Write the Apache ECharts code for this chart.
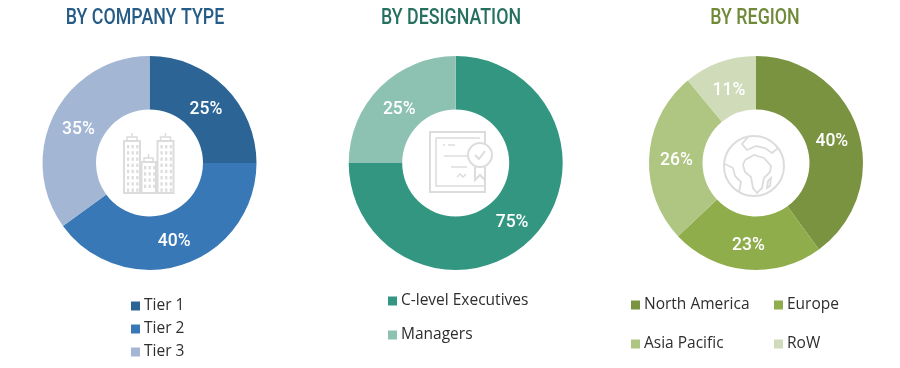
<!DOCTYPE html>
<html>
<head>
<meta charset="utf-8">
<title>Breakdown of primary interviews</title>
<script src="https://cdn.jsdelivr.net/npm/echarts@6/dist/echarts.min.js"></script>
<style>
html, body { margin: 0; padding: 0; background: #fff; }
#chart { width: 900px; height: 368px; }
</style>
</head>
<body>
<div id="chart"></div>
<script>
var companyNames = ['Tier 1', 'Tier 2', 'Tier 3'];
var companyValues = [25, 40, 35];
var companyColors = ['#2c6496', '#3878b6', '#a3b7d5'];

var designationNames = ['C-level Executives', 'Managers'];
var designationValues = [75, 25];
var designationColors = ['#329680', '#8dc2b2'];

var regionNames = ['North America', 'Europe', 'Asia Pacific', 'RoW'];
var regionValues = [40, 23, 26, 11];
var regionColors = ['#7a9340', '#8fad4b', '#aec681', '#d0dcb9'];

var iconColor = '#dcdcdc';

function toData(names, values, colors) {
    var sofar = 0;
    return names.map(function (n, i) {
        // pull the label a little towards the hole, the way the original sits
        var mid = (sofar + values[i] / 2) / 100 * Math.PI * 2;
        sofar += values[i];
        return {
            name: n,
            value: values[i],
            itemStyle: { color: colors[i] },
            label: { offset: [-3.5 * Math.sin(mid), 3.5 * Math.cos(mid) + 3] }
        };
    });
}

function donut(cx, names, values, colors) {
    return {
        type: 'pie',
        center: [cx, 163],
        radius: [53.5, 107],
        startAngle: 90,
        clockwise: true,
        silent: true,
        animation: false,
        label: {
            show: true,
            position: 'inside',
            formatter: '{d}%',
            color: '#fff',
            fontFamily: 'Roboto',
            fontWeight: 500,
            fontSize: 17.5
        },
        labelLine: { show: false },
        data: toData(names, values, colors)
    };
}

// the titles are a condensed face, so squeeze the text sideways
function title(text, cx, color) {
    return {
        type: 'text',
        silent: true,
        x: cx,
        y: 7,
        scaleX: 0.81,
        style: {
            text: text,
            fill: color,
            textAlign: 'center',
            fontFamily: 'Roboto',
            fontSize: 22,
            fontWeight: 500
        }
    };
}

function legend(names, left, top, gap) {
    return {
        orient: 'vertical',
        left: left,
        top: top,
        data: names,
        icon: 'rect',
        itemWidth: 9,
        itemHeight: 9,
        itemGap: gap,
        selectedMode: false,
        padding: 0,
        textStyle: {
            color: '#2e2e2e',
            fontFamily: 'Open Sans',
            fontSize: 15.5,
            padding: [0, 0, 0, -1]
        }
    };
}

// centre icons, plain outlines
function line(points, w) {
    return {
        type: 'polyline',
        silent: true,
        shape: { points: points },
        style: { fill: null, stroke: iconColor, lineWidth: w || 2 }
    };
}
function box(x, y, w, h, lw) {
    return {
        type: 'rect',
        silent: true,
        shape: { x: x, y: y, width: w, height: h },
        style: { fill: null, stroke: iconColor, lineWidth: lw || 2 }
    };
}
function windows(x0, y0, cols, rows, out) {
    for (var r = 0; r < rows; r++) {
        for (var c = 0; c < cols; c++) {
            out.push({
                type: 'rect',
                silent: true,
                shape: { x: x0 + c * 4.6, y: y0 + r * 6.2, width: 2.2, height: 3.4 },
                style: { fill: iconColor }
            });
        }
    }
}

var icons = [
    title('BY COMPANY TYPE', 145, '#255b85'),
    title('BY DESIGNATION', 451, '#26705f'),
    title('BY REGION', 755, '#6f8a38')
];

// buildings
icons.push(box(124, 141, 16, 52));
icons.push(box(141.5, 162, 14.5, 31));
icons.push(box(157.5, 141, 16, 52));
icons.push(line([[127, 141], [127, 137], [137, 137], [137, 141]], 1.5));
icons.push(line([[132, 137], [132, 133]], 1.5));
icons.push(line([[160.5, 141], [160.5, 137], [170.5, 137], [170.5, 141]], 1.5));
icons.push(line([[165.5, 137], [165.5, 133]], 1.5));
icons.push(line([[144, 162], [144, 158], [153, 158], [153, 162]], 1.5));
icons.push(line([[148.5, 158], [148.5, 154]], 1.5));
windows(127, 145, 3, 8, icons);
windows(144, 166, 3, 4, icons);
windows(160.5, 145, 3, 8, icons);

// certificate
icons.push(line([[485, 147], [485, 132], [430, 132], [430, 192], [485, 192], [485, 178]], 2));
icons.push(line([[480, 138], [436, 138], [436, 186], [484, 186]], 1.5));
icons.push(line([[443, 145], [445, 145]], 1.5));
icons.push(line([[448, 145], [455, 145]], 1.5));
icons.push(line([[444, 156], [468, 156]], 1.5));
icons.push(line([[451, 167], [467, 167]], 1.5));
icons.push(line([[457, 177], [460, 174], [463, 177], [466, 174]], 1.5));
icons.push({
    type: 'circle', silent: true,
    shape: { cx: 480, cy: 155, r: 12 },
    style: { fill: '#fff', stroke: iconColor, lineWidth: 2 }
});
icons.push(line([[475, 155], [479, 159], [485, 151]], 2));
icons.push(line([[475, 167], [475, 180], [480, 175], [485, 180], [485, 167]], 2));

// globe
icons.push({
    type: 'circle', silent: true,
    shape: { cx: 754, cy: 166, r: 30 },
    style: { fill: null, stroke: iconColor, lineWidth: 2 }
});
icons.push(line([[748, 137], [742, 144], [747, 150], [756, 146], [765, 148], [772, 153], [778, 148]], 1.8));
icons.push(line([[725, 164], [733, 168], [735, 176], [741, 182], [739, 192]], 1.8));
icons.push(line([[745, 160], [754, 155], [764, 158], [771, 166], [770, 172], [764, 178], [762, 188], [757, 193], [753, 188], [751, 177], [745, 172], [743, 165], [745, 160]], 1.8));
icons.push(line([[768, 181], [771, 178], [770, 186], [767, 188], [768, 181]], 1.8));

var chart = echarts.init(document.getElementById('chart'), null, { renderer: 'canvas' });

chart.setOption({
    animation: false,
    backgroundColor: '#fff',
    legend: [
        legend(companyNames, 131, 298, 7),
        legend(designationNames, 388, 293, 18),
        legend(['North America', 'Asia Pacific'], 631, 297, 23),
        legend(['Europe', 'RoW'], 774, 297, 23)
    ],
    series: [
        donut(149.5, companyNames, companyValues, companyColors),
        donut(455.7, designationNames, designationValues, designationColors),
        donut(756, regionNames, regionValues, regionColors)
    ],
    graphic: { elements: icons }
});
</script>
</body>
</html>
